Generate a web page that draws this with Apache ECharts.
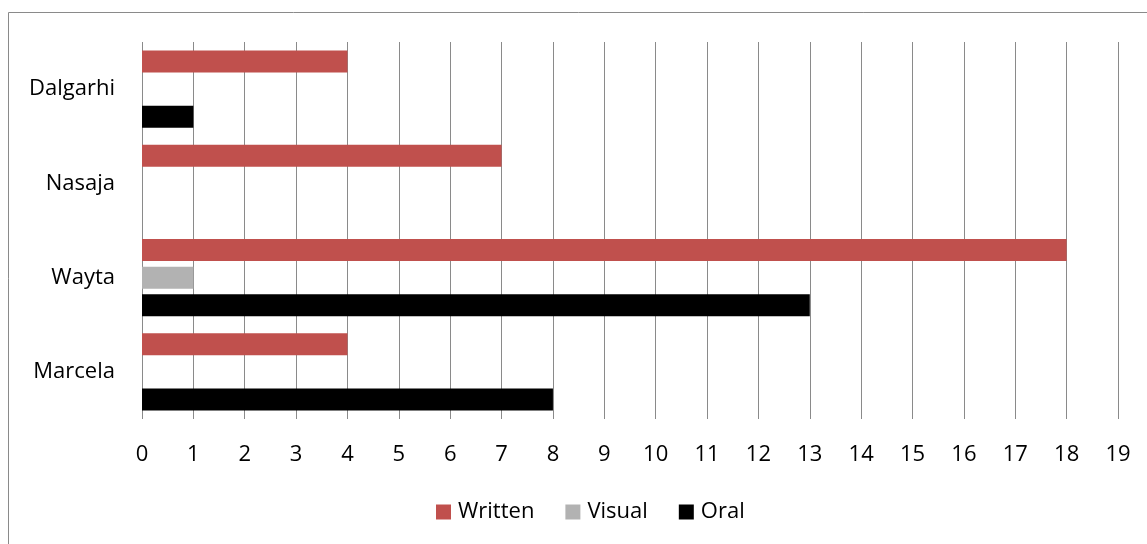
<!DOCTYPE html>
<html>
<head>
<meta charset="utf-8">
<script src="https://cdn.jsdelivr.net/npm/echarts@6/dist/echarts.min.js"></script>
<style>
html,body{margin:0;padding:0;background:#fff;}
#c{width:1147px;height:544px;}
</style>
</head>
<body>
<div id="c"></div>
<script>
const categories = ['Marcela', 'Wayta', 'Nasaja', 'Dalgarhi'];
const seriesNames = ['Written', 'Visual', 'Oral'];
const written = [4, 18, 7, 4];
const visual = [0, 1, 0, 0];
const oral = [8, 13, 0, 1];
const xTicks = [0, 19, 1];

const colors = {Written: '#C0504D', Visual: '#B2B2B2', Oral: '#000000'};
const values = {Written: written, Visual: visual, Oral: oral};
const FONT = 'Open Sans';

const chart = echarts.init(document.getElementById('c'), null, {renderer: 'canvas'});
chart.setOption({
  animation: false,
  backgroundColor: '#fff',
  textStyle: {fontFamily: FONT, color: '#000'},
  graphic: [{
    type: 'rect',
    shape: {x: 8.5, y: 12.5, width: 1300, height: 700},
    style: {fill: 'none', stroke: '#8a8a8a', lineWidth: 1},
    silent: true, z: -1
  }],
  grid: {left: 142, right: 29, top: 42, bottom: 125, containLabel: false},
  legend: {
    data: seriesNames,
    left: 436, top: 501, padding: 0,
    itemWidth: 15, itemHeight: 15, itemGap: 31,
    icon: 'rect',
    textStyle: {fontFamily: FONT, fontSize: 22, color: '#000', padding: [0, 0, 0, 2]}
  },
  xAxis: {
    type: 'value',
    min: xTicks[0], max: xTicks[1], interval: xTicks[2],
    axisLine: {show: false},
    axisTick: {show: false},
    splitLine: {show: true, lineStyle: {color: '#8a8a8a', width: 1}},
    axisLabel: {fontFamily: FONT, fontSize: 22, color: '#000', margin: 25}
  },
  yAxis: {
    type: 'category',
    data: categories,
    axisLine: {show: false},
    axisTick: {show: false},
    axisLabel: {fontFamily: FONT, fontSize: 22, color: '#000', margin: 27}
  },
  series: seriesNames.map(n => ({
    name: n,
    type: 'bar',
    data: values[n],
    barWidth: 22,
    barGap: '26%',
    itemStyle: {color: colors[n]}
  }))
});
</script>
</body>
</html>
